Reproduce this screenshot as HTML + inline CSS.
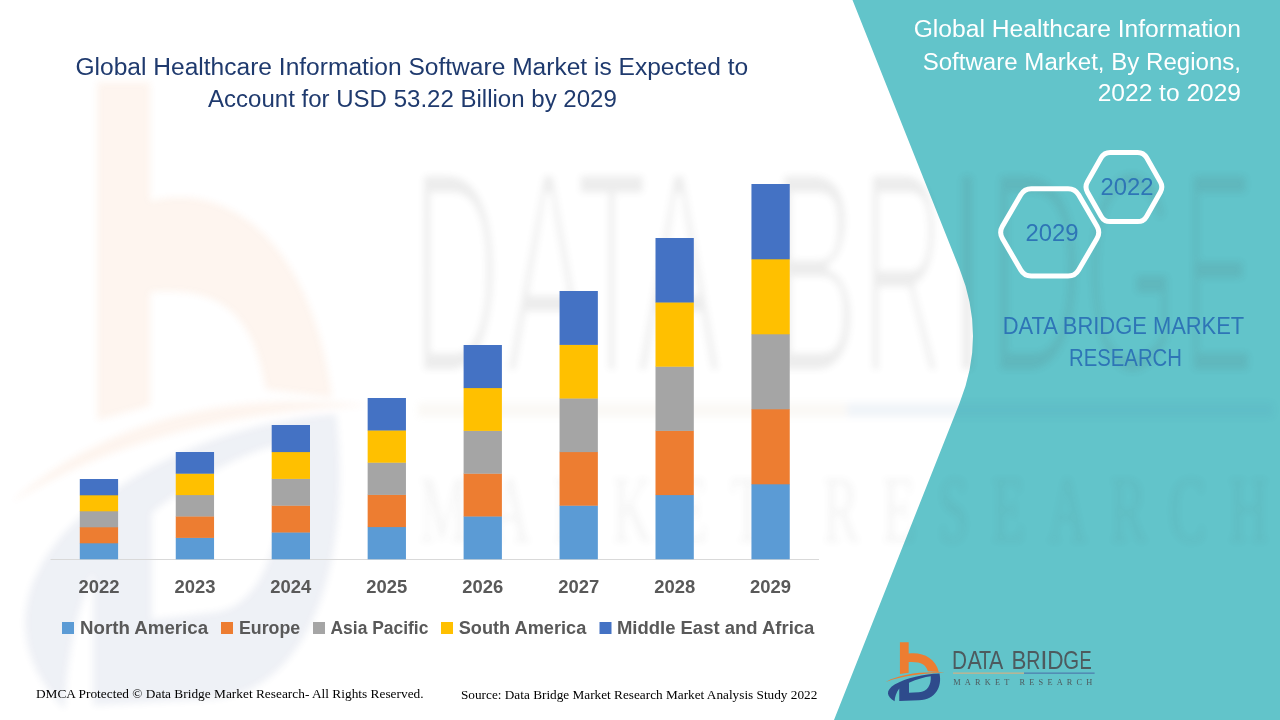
<!DOCTYPE html>
<html><head><meta charset="utf-8"><style>
html,body{margin:0;padding:0;width:1280px;height:720px;overflow:hidden;background:#fff}
svg{display:block}
text{font-family:"Liberation Sans",sans-serif}
.serif{font-family:"Liberation Serif",serif}
</style></head><body>
<svg width="1280" height="720" viewBox="0 0 1280 720">
<defs>
<filter id="wblur" filterUnits="userSpaceOnUse" x="0" y="0" width="1280" height="720"><feGaussianBlur stdDeviation="3.5"/></filter>
<filter id="wthin" filterUnits="userSpaceOnUse" x="0" y="0" width="1280" height="720"><feMorphology operator="erode" radius="2.5 3"/><feGaussianBlur stdDeviation="3.5"/></filter>
<g id="icon" transform="translate(880,636) scale(0.097222)">
<path d="M205,65 H295 V180 C430,160 570,220 605,370 L492,362 C472,292 420,262 295,268 V378 L205,392 Z" fill="#ED7D31"/>
<path d="M58,472 C210,395 420,362 668,378 C430,383 230,412 58,472 Z" fill="#ED7D31"/>
<path fill-rule="evenodd" fill="#2E4B8C" d="M150,672 C70,625 50,565 150,500 C270,430 450,392 612,386 C640,520 575,655 400,662 L198,668 L198,540 C168,580 152,625 150,672 Z M298,482 C380,445 460,422 522,415 C528,500 490,575 400,578 L298,585 Z"/>
</g>
<g id="lines">
<rect x="953" y="672.5" width="71" height="1.3" fill="#C9B28A"/>
<rect x="1024" y="672.5" width="70.6" height="1.3" fill="#4E7FAF"/>
</g>
<g id="ltext" fill="#4D5A5E">
<text transform="translate(959.75,669.3) scale(0.793,1)" x="-9.91" y="0" font-size="26.2">D</text><text transform="translate(974.60,669.3) scale(0.817,1)" x="-8.74" y="0" font-size="26.2">A</text><text transform="translate(985.10,669.3) scale(0.756,1)" x="-8.00" y="0" font-size="26.2">T</text><text transform="translate(996.20,669.3) scale(0.817,1)" x="-8.74" y="0" font-size="26.2">A</text><text transform="translate(1019.15,669.3) scale(0.853,1)" x="-9.12" y="0" font-size="26.2">B</text><text transform="translate(1033.70,669.3) scale(0.746,1)" x="-9.93" y="0" font-size="26.2">R</text><text transform="translate(1043.95,669.3) scale(1.000,1)" x="-3.64" y="0" font-size="26.2">I</text><text transform="translate(1055.70,669.3) scale(0.864,1)" x="-9.91" y="0" font-size="26.2">D</text><text transform="translate(1070.85,669.3) scale(0.778,1)" x="-9.87" y="0" font-size="26.2">G</text><text transform="translate(1085.95,669.3) scale(0.697,1)" x="-9.25" y="0" font-size="26.2">E</text>
<text class="serif" x="953.3" y="685.2" font-size="8.3" textLength="139" lengthAdjust="spacing">MARKET   RESEARCH</text>
</g>
</defs>
<rect width="1280" height="720" fill="#ffffff"/>
<!-- teal panel -->
<path d="M852.5,0 L959.5,268.75 Q986.5,336 959.5,403.25 L834,720 L1280,720 L1280,0 Z" fill="#62C4CA"/>
<!-- watermark -->
<g><g filter="url(#wblur)" opacity="0.08"><g transform="matrix(6.04,0,0,10.63,-5338.40,-6745.65)"><use href="#icon"/><use href="#lines"/></g></g><g filter="url(#wthin)" fill="#505050" opacity="0.1"><g transform="matrix(6.04,0,0,10.63,-5338.40,-6745.65)"><g><text transform="translate(959.75,669.6) scale(0.763,1)" x="-10.29" y="0" font-size="27.2">D</text><text transform="translate(974.60,669.6) scale(0.787,1)" x="-9.07" y="0" font-size="27.2">A</text><text transform="translate(985.10,669.6) scale(0.728,1)" x="-8.30" y="0" font-size="27.2">T</text><text transform="translate(996.20,669.6) scale(0.787,1)" x="-9.07" y="0" font-size="27.2">A</text><text transform="translate(1019.15,669.6) scale(0.822,1)" x="-9.47" y="0" font-size="27.2">B</text><text transform="translate(1033.70,669.6) scale(0.718,1)" x="-10.31" y="0" font-size="27.2">R</text><text transform="translate(1043.95,669.6) scale(1.000,1)" x="-3.78" y="0" font-size="27.2">I</text><text transform="translate(1055.70,669.6) scale(0.832,1)" x="-10.29" y="0" font-size="27.2">D</text><text transform="translate(1070.85,669.6) scale(0.749,1)" x="-10.25" y="0" font-size="27.2">G</text><text transform="translate(1085.95,669.6) scale(0.672,1)" x="-9.60" y="0" font-size="27.2">E</text></g></g></g><g filter="url(#wblur)" fill="#505050" opacity="0.06"><g transform="matrix(6.04,0,0,10.63,-5338.40,-6745.65)"><text class="serif" x="953.3" y="685.6" font-size="9" textLength="140.5" lengthAdjust="spacing">MARKET   RESEARCH</text></g></g></g>
<!-- title -->
<g fill="#1F3A6E" font-size="23.5">
<text x="75.5" y="74.5" textLength="672.7" lengthAdjust="spacingAndGlyphs">Global Healthcare Information Software Market is Expected to</text>
<text x="208" y="107" textLength="408.8" lengthAdjust="spacingAndGlyphs">Account for USD 53.22 Billion by 2029</text>
</g>
<!-- chart -->
<line x1="50.5" y1="559.5" x2="819" y2="559.5" stroke="#D9D9D9" stroke-width="1"/>
<rect x="79.80" y="543.00" width="38.3" height="16.30" fill="#5B9BD5"/><rect x="79.80" y="527.00" width="38.3" height="16.30" fill="#ED7D31"/><rect x="79.80" y="511.00" width="38.3" height="16.30" fill="#A5A5A5"/><rect x="79.80" y="495.00" width="38.3" height="16.30" fill="#FFC000"/><rect x="79.80" y="479.00" width="38.3" height="16.30" fill="#4472C4"/><rect x="175.75" y="537.60" width="38.3" height="21.70" fill="#5B9BD5"/><rect x="175.75" y="516.20" width="38.3" height="21.70" fill="#ED7D31"/><rect x="175.75" y="494.80" width="38.3" height="21.70" fill="#A5A5A5"/><rect x="175.75" y="473.40" width="38.3" height="21.70" fill="#FFC000"/><rect x="175.75" y="452.00" width="38.3" height="21.70" fill="#4472C4"/><rect x="271.70" y="532.20" width="38.3" height="27.10" fill="#5B9BD5"/><rect x="271.70" y="505.40" width="38.3" height="27.10" fill="#ED7D31"/><rect x="271.70" y="478.60" width="38.3" height="27.10" fill="#A5A5A5"/><rect x="271.70" y="451.80" width="38.3" height="27.10" fill="#FFC000"/><rect x="271.70" y="425.00" width="38.3" height="27.10" fill="#4472C4"/><rect x="367.65" y="526.80" width="38.3" height="32.50" fill="#5B9BD5"/><rect x="367.65" y="494.60" width="38.3" height="32.50" fill="#ED7D31"/><rect x="367.65" y="462.40" width="38.3" height="32.50" fill="#A5A5A5"/><rect x="367.65" y="430.20" width="38.3" height="32.50" fill="#FFC000"/><rect x="367.65" y="398.00" width="38.3" height="32.50" fill="#4472C4"/><rect x="463.60" y="516.20" width="38.3" height="43.10" fill="#5B9BD5"/><rect x="463.60" y="473.40" width="38.3" height="43.10" fill="#ED7D31"/><rect x="463.60" y="430.60" width="38.3" height="43.10" fill="#A5A5A5"/><rect x="463.60" y="387.80" width="38.3" height="43.10" fill="#FFC000"/><rect x="463.60" y="345.00" width="38.3" height="43.10" fill="#4472C4"/><rect x="559.55" y="505.40" width="38.3" height="53.90" fill="#5B9BD5"/><rect x="559.55" y="451.80" width="38.3" height="53.90" fill="#ED7D31"/><rect x="559.55" y="398.20" width="38.3" height="53.90" fill="#A5A5A5"/><rect x="559.55" y="344.60" width="38.3" height="53.90" fill="#FFC000"/><rect x="559.55" y="291.00" width="38.3" height="53.90" fill="#4472C4"/><rect x="655.50" y="494.80" width="38.3" height="64.50" fill="#5B9BD5"/><rect x="655.50" y="430.60" width="38.3" height="64.50" fill="#ED7D31"/><rect x="655.50" y="366.40" width="38.3" height="64.50" fill="#A5A5A5"/><rect x="655.50" y="302.20" width="38.3" height="64.50" fill="#FFC000"/><rect x="655.50" y="238.00" width="38.3" height="64.50" fill="#4472C4"/><rect x="751.45" y="484.00" width="38.3" height="75.30" fill="#5B9BD5"/><rect x="751.45" y="409.00" width="38.3" height="75.30" fill="#ED7D31"/><rect x="751.45" y="334.00" width="38.3" height="75.30" fill="#A5A5A5"/><rect x="751.45" y="259.00" width="38.3" height="75.30" fill="#FFC000"/><rect x="751.45" y="184.00" width="38.3" height="75.30" fill="#4472C4"/>
<g fill="#595959" font-size="18" font-weight="bold">
<text x="98.95" y="593" text-anchor="middle" textLength="41" lengthAdjust="spacingAndGlyphs">2022</text><text x="194.90" y="593" text-anchor="middle" textLength="41" lengthAdjust="spacingAndGlyphs">2023</text><text x="290.85" y="593" text-anchor="middle" textLength="41" lengthAdjust="spacingAndGlyphs">2024</text><text x="386.80" y="593" text-anchor="middle" textLength="41" lengthAdjust="spacingAndGlyphs">2025</text><text x="482.75" y="593" text-anchor="middle" textLength="41" lengthAdjust="spacingAndGlyphs">2026</text><text x="578.70" y="593" text-anchor="middle" textLength="41" lengthAdjust="spacingAndGlyphs">2027</text><text x="674.65" y="593" text-anchor="middle" textLength="41" lengthAdjust="spacingAndGlyphs">2028</text><text x="770.60" y="593" text-anchor="middle" textLength="41" lengthAdjust="spacingAndGlyphs">2029</text>
</g>
<!-- legend -->
<g font-size="18" font-weight="bold" fill="#595959">
<rect x="62" y="622" width="12" height="12" fill="#5B9BD5"/>
<text x="80" y="634" textLength="128.1" lengthAdjust="spacingAndGlyphs">North America</text>
<rect x="221" y="622" width="12" height="12" fill="#ED7D31"/>
<text x="238.9" y="634" textLength="61.3" lengthAdjust="spacingAndGlyphs">Europe</text>
<rect x="313" y="622" width="12" height="12" fill="#A5A5A5"/>
<text x="330.5" y="634" textLength="97.9" lengthAdjust="spacingAndGlyphs">Asia Pacific</text>
<rect x="441" y="622" width="12" height="12" fill="#FFC000"/>
<text x="458.75" y="634" textLength="127.5" lengthAdjust="spacingAndGlyphs">South America</text>
<rect x="599.5" y="622" width="12" height="12" fill="#4472C4"/>
<text x="616.9" y="634" textLength="197.5" lengthAdjust="spacingAndGlyphs">Middle East and Africa</text>
</g>
<!-- footer -->
<g fill="#000" font-size="13.4">
<text class="serif" x="35.9" y="698" textLength="387.7" lengthAdjust="spacingAndGlyphs">DMCA Protected © Data Bridge Market Research- All Rights Reserved.</text>
<text class="serif" x="461" y="699.3" font-size="13.25" textLength="356.3" lengthAdjust="spacingAndGlyphs">Source: Data Bridge Market Research Market Analysis Study 2022</text>
</g>
<!-- right panel -->
<g fill="#ffffff" font-size="23" text-anchor="end">
<text x="1241" y="37.3" textLength="327.3" lengthAdjust="spacingAndGlyphs">Global Healthcare Information</text>
<text x="1241" y="69.6" textLength="318.3" lengthAdjust="spacingAndGlyphs">Software Market, By Regions,</text>
<text x="1241" y="101.4" textLength="143.3" lengthAdjust="spacingAndGlyphs">2022 to 2029</text>
</g>
<g fill="none" stroke="#ffffff" stroke-width="5">
<path d="M1096.98,226.35 Q1100.50,232.40 1096.98,238.45 L1078.62,270.05 Q1075.10,276.10 1068.10,276.10 L1031.30,276.10 Q1024.30,276.10 1020.78,270.05 L1002.42,238.45 Q998.90,232.40 1002.42,226.35 L1020.78,194.75 Q1024.30,188.70 1031.30,188.70 L1068.10,188.70 Q1075.10,188.70 1078.62,194.75 Z"/>
<path d="M1160.33,181.79 Q1163.30,187.00 1160.33,192.21 L1146.57,216.39 Q1143.60,221.60 1137.60,221.60 L1110.20,221.60 Q1104.20,221.60 1101.23,216.39 L1087.47,192.21 Q1084.50,187.00 1087.47,181.79 L1101.23,157.61 Q1104.20,152.40 1110.20,152.40 L1137.60,152.40 Q1143.60,152.40 1146.57,157.61 Z"/>
</g>
<g fill="#2E75B6" font-size="23" text-anchor="middle">
<text x="1052" y="241" textLength="53" lengthAdjust="spacingAndGlyphs">2029</text>
<text x="1127" y="195.2" textLength="53" lengthAdjust="spacingAndGlyphs">2022</text>
<text x="1123.5" y="333.75" textLength="241.5" lengthAdjust="spacingAndGlyphs">DATA BRIDGE MARKET</text>
<text x="1125.5" y="365.8" textLength="113" lengthAdjust="spacingAndGlyphs">RESEARCH</text>
</g>
<!-- logo -->
<use href="#icon"/><use href="#lines"/><use href="#ltext"/>
</svg>
</body></html>
